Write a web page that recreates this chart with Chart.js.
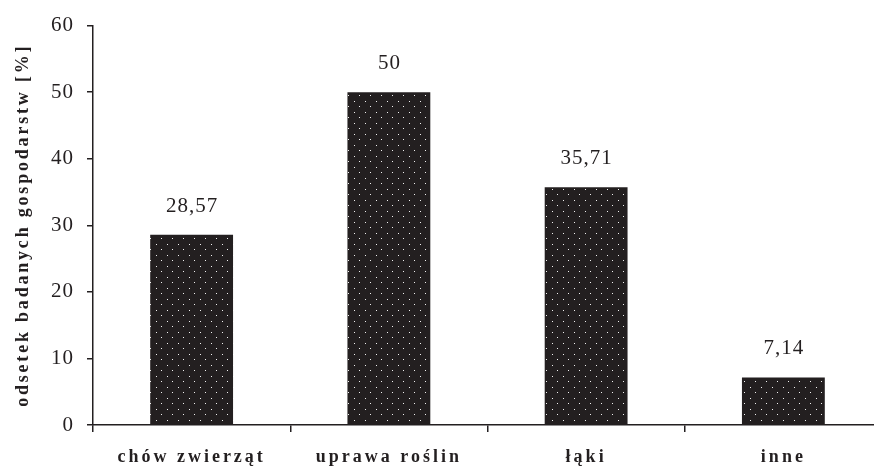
<!DOCTYPE html>
<html><head><meta charset="utf-8">
<script src="https://cdn.jsdelivr.net/npm/chart.js@4"></script>
<style>
html,body{margin:0;padding:0;background:#fff;overflow:hidden;width:874px;height:466px}
#wrap{position:relative;width:882px;height:466px}
</style>
</head><body><div id="wrap"><canvas id="c"></canvas></div>
<script>
const categories = ['chów zwierząt', 'uprawa roślin', 'łąki', 'inne'];
const values = [28.57, 50, 35.71, 7.14];
const yTicks = [0, 10, 20, 30, 40, 50, 60];
const yTitle = 'odsetek badanych gospodarstw [%]';

const INK = '#231f20';
const SERIF = '"Liberation Serif", "Times New Roman", serif';

function makePattern() {
  const p = document.createElement('canvas');
  p.width = 11; p.height = 11;
  const g = p.getContext('2d');
  g.fillStyle = INK;
  g.fillRect(0, 0, 11, 11);
  g.fillStyle = '#f2f2f2';
  g.fillRect(2, 2, 1, 1);
  g.fillRect(7, 7, 1, 1);
  return g.createPattern(p, 'repeat');
}

function wrapSpacing(scale, method, spacing) {
  const key = '_ls_' + method;
  if (scale[key]) return;
  const orig = scale[method];
  scale[method] = function (...a) {
    const ctx = this.ctx;
    ctx.save();
    ctx.letterSpacing = spacing;
    orig.apply(this, a);
    ctx.restore();
  };
  scale[key] = true;
}

const spacingPlugin = {
  id: 'spacing',
  beforeDraw(chart) {
    wrapSpacing(chart.scales.x, 'drawLabels', '3px');
    wrapSpacing(chart.scales.y, 'drawTitle', '2.8px');
    wrapSpacing(chart.scales.y, 'drawLabels', '1px');
  }
};

const valueLabels = {
  id: 'valueLabels',
  afterDatasetsDraw(chart) {
    const ctx = chart.ctx;
    const meta = chart.getDatasetMeta(0);
    ctx.save();
    ctx.font = '21px ' + SERIF;
    ctx.letterSpacing = '1px';
    ctx.fillStyle = INK;
    ctx.textAlign = 'center';
    ctx.textBaseline = 'alphabetic';
    meta.data.forEach((bar, i) => {
      const txt = String(values[i]).replace('.', ',');
      ctx.fillText(txt, bar.x + 0.5, bar.y - 23);
    });
    ctx.restore();
  }
};

new Chart(document.getElementById('c'), {
  type: 'bar',
  data: {
    labels: categories,
    datasets: [{
      data: values,
      backgroundColor: makePattern(),
      borderWidth: 0,
      barPercentage: 0.42,
      categoryPercentage: 1
    }]
  },
  options: {
    responsive: true,
    maintainAspectRatio: false,
    animation: false,
    devicePixelRatio: 1,
    layout: { padding: { top: 23, left: 0, right: 0, bottom: 0 } },
    plugins: { legend: { display: false }, tooltip: { enabled: false } },
    scales: {
      x: {
        offset: true,
        afterFit: s => { s.height = 41; },
        grid: {
          offset: true,
          drawOnChartArea: false,
          drawTicks: true,
          tickLength: 7,
          color: INK,
          lineWidth: 1.5
        },
        border: { display: true, color: INK, width: 1.5 },
        ticks: {
          color: INK,
          padding: 15,
          maxRotation: 0,
          autoSkip: false,
          font: { family: SERIF, size: 18, weight: 'bold' }
        }
      },
      y: {
        min: 0,
        max: 60,
        afterFit: s => { s.width = 93; },
        afterBuildTicks: s => { s.ticks = yTicks.map(v => ({ value: v })); },
        grid: {
          drawOnChartArea: false,
          drawTicks: true,
          tickLength: 6,
          color: INK,
          lineWidth: 1.5
        },
        border: { display: true, color: INK, width: 1.5 },
        ticks: {
          color: INK,
          padding: 13,
          font: { family: SERIF, size: 21 }
        },
        title: {
          display: true,
          text: yTitle,
          color: INK,
          padding: { top: 13, bottom: 0 },
          font: { family: SERIF, size: 18, weight: 'bold' }
        }
      }
    }
  },
  plugins: [spacingPlugin, valueLabels]
});
</script>
</body></html>
